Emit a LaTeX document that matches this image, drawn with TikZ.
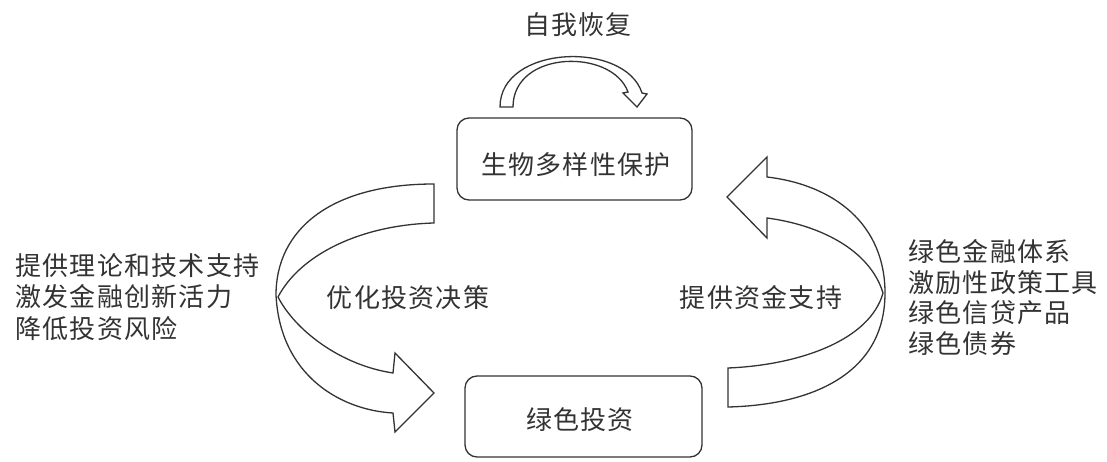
\documentclass[tikz,border=0pt]{standalone}
\usepackage{fontspec}
\newfontfamily\cjk[LetterSpace=5]{Noto Sans CJK SC}
\begin{document}
\begin{tikzpicture}[x=1pt,y=-1pt,
  ink/.style={draw=black!80, line width=1.3pt, line join=miter},
  boxstyle/.style={ink, rounded corners=12pt, inner sep=0pt},
  txt/.style={text=black!80, font=\cjk\fontsize{26}{30.5}\selectfont, inner sep=0pt},
  blockarrow/.style={ink, fill=white}]
\useasboundingbox (0,0) rectangle (1107,462);
% boxes
\node[boxstyle, minimum width=235pt, minimum height=82pt] (bio) at (574.5,159) {};
\node[txt] (biot) at (576,165) {生物多样性保护};
\node[boxstyle, minimum width=237pt, minimum height=81pt] (inv) at (583.5,416.5) {};
\node[txt] (invt) at (580,420) {绿色投资};
% top arrow
\node[txt] (self) at (578,25) {自我恢复};
\draw[blockarrow] (500,107) .. controls (500,45) and (625,40) .. (642,93)
  -- (647,94) -- (637,107) -- (623,93) -- (628,92)
  .. controls (612,48) and (513,50) .. (513,107) -- cycle;
% left arrow
\draw[blockarrow] (434,184) .. controls (330,184) and (276,230) .. (276,295)
  .. controls (280,375) and (340,410) .. (393,413)
  -- (395,432) -- (434,393) -- (395,353) -- (393,373)
  .. controls (340,365) and (295,330) .. (278,297)
  .. controls (300,255) and (360,225) .. (434,223) -- cycle;
% right arrow
\draw[blockarrow] (728,368) .. controls (800,365) and (870,340) .. (883,293)
  .. controls (870,250) and (820,225) .. (767,218)
  -- (767,238) -- (727,197) -- (767,157) -- (767,177)
  .. controls (835,185) and (885,225) .. (885,293)
  .. controls (885,375) and (810,405) .. (728,407) -- cycle;
% labels
\node[txt] (opt) at (408,298) {优化投资决策};
\node[txt] (fund) at (761,298) {提供资金支持};
\node[txt, align=left, anchor=west, font=\cjk\fontsize{26}{31.5}\selectfont] (left) at (15,297)
  {提供理论和技术支持\\激发金融创新活力\\降低投资风险};
\node[txt, align=left, anchor=west] (right) at (908,297.5)
  {绿色金融体系\\激励性政策工具\\绿色信贷产品\\绿色债券};
\end{tikzpicture}
\end{document}
